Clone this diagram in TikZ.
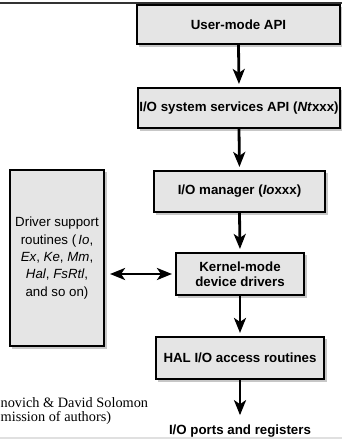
\documentclass[tikz,border=0pt]{standalone}
\usepackage{fontspec}
\setmainfont{Liberation Serif}
\setsansfont{Liberation Sans}
\usetikzlibrary{arrows.meta,shadows}
\definecolor{boxfill}{gray}{0.9}
\definecolor{shadowgray}{gray}{0.78}
\begin{document}
\begin{tikzpicture}[x=1pt, y=-1pt,
	box/.style={draw, line width=1.6pt, fill=boxfill, inner sep=0pt, align=center,
		drop shadow={shadow xshift=2.5pt, shadow yshift=-2.5pt, fill=shadowgray, opacity=1}},
	layer/.style={box, font=\sffamily\bfseries\fontsize{13.3}{15.5}\selectfont},
	helper/.style={box, font=\sffamily\fontsize{13.3}{17.3}\selectfont},
	tip/.style={Stealth[length=15pt, width=12pt, inset=4pt]},
	flow/.style={-{Stealth[length=15pt, width=12pt, inset=4pt]}, line width=2.8pt, shorten >=3pt}]
	\useasboundingbox (0,0) rectangle (342,439);
	%page rules
	\draw[line width=2pt, black!80] (0,3) -- (342,3);
	\draw[line width=2pt, black!12] (0,437.5) -- (342,437.5);
	
	%layers
	\node (usermode) at (238.5, 24.5) [layer, minimum width=203.5, minimum height=39.5]{User-mode API};
	\node (syssvc) at (239, 108) [layer, minimum width=202.5, minimum height=40.5]{I/O system services API (\textit{Nt}xxx)};
	\node (iomgr) at (239.5, 191.5) [layer, minimum width=171.5, minimum height=41.5]{I/O manager (\textit{Io}xxx)};
	\node (kdrv) at (240, 274) [layer, minimum width=128.5, minimum height=42.5]{Kernel-mode\\device drivers};
	\node (hal) at (240, 358) [layer, minimum width=168.5, minimum height=42.5]{HAL I/O access routines};
	\node (ports) at (240, 434) [anchor=base, inner sep=0pt, font=\sffamily\bfseries\fontsize{13.3}{15.5}\selectfont]{I/O ports and registers};
	
	%support routines
	\node (support) at (57, 258) [helper, minimum width=94.5, minimum height=176.5]{Driver support\\routines (\,\textit{Io},\\\textit{Ex}, \textit{Ke}, \textit{Mm},\\\textit{Hal}, \textit{FsRtl},\\and so on)};
	
	\foreach \a/\b in {usermode/syssvc, syssvc/iomgr, iomgr/kdrv, kdrv/hal}{
		\draw[flow] (\a.south) -- (\b.north);
	}
	\draw[flow, shorten >=9pt] (hal.south) -- (ports.north);
	\draw[{Stealth[length=15pt, width=12pt, inset=4pt]}-{Stealth[length=15pt, width=12pt, inset=4pt]}, line width=2.6pt, shorten <=5pt, shorten >=3pt] (kdrv.west -| support.east) -- (kdrv.west);
	
	%credit
	\node (credit1) at (0.5, 407.5) [anchor=base west, inner sep=0pt, font=\fontsize{14.3}{14}\selectfont]{novich \& David Solomon};
	\node (credit2) at (0.5, 421) [anchor=base west, inner sep=0pt, font=\fontsize{14.3}{14}\selectfont]{mission of authors)};
\end{tikzpicture}
\end{document}
